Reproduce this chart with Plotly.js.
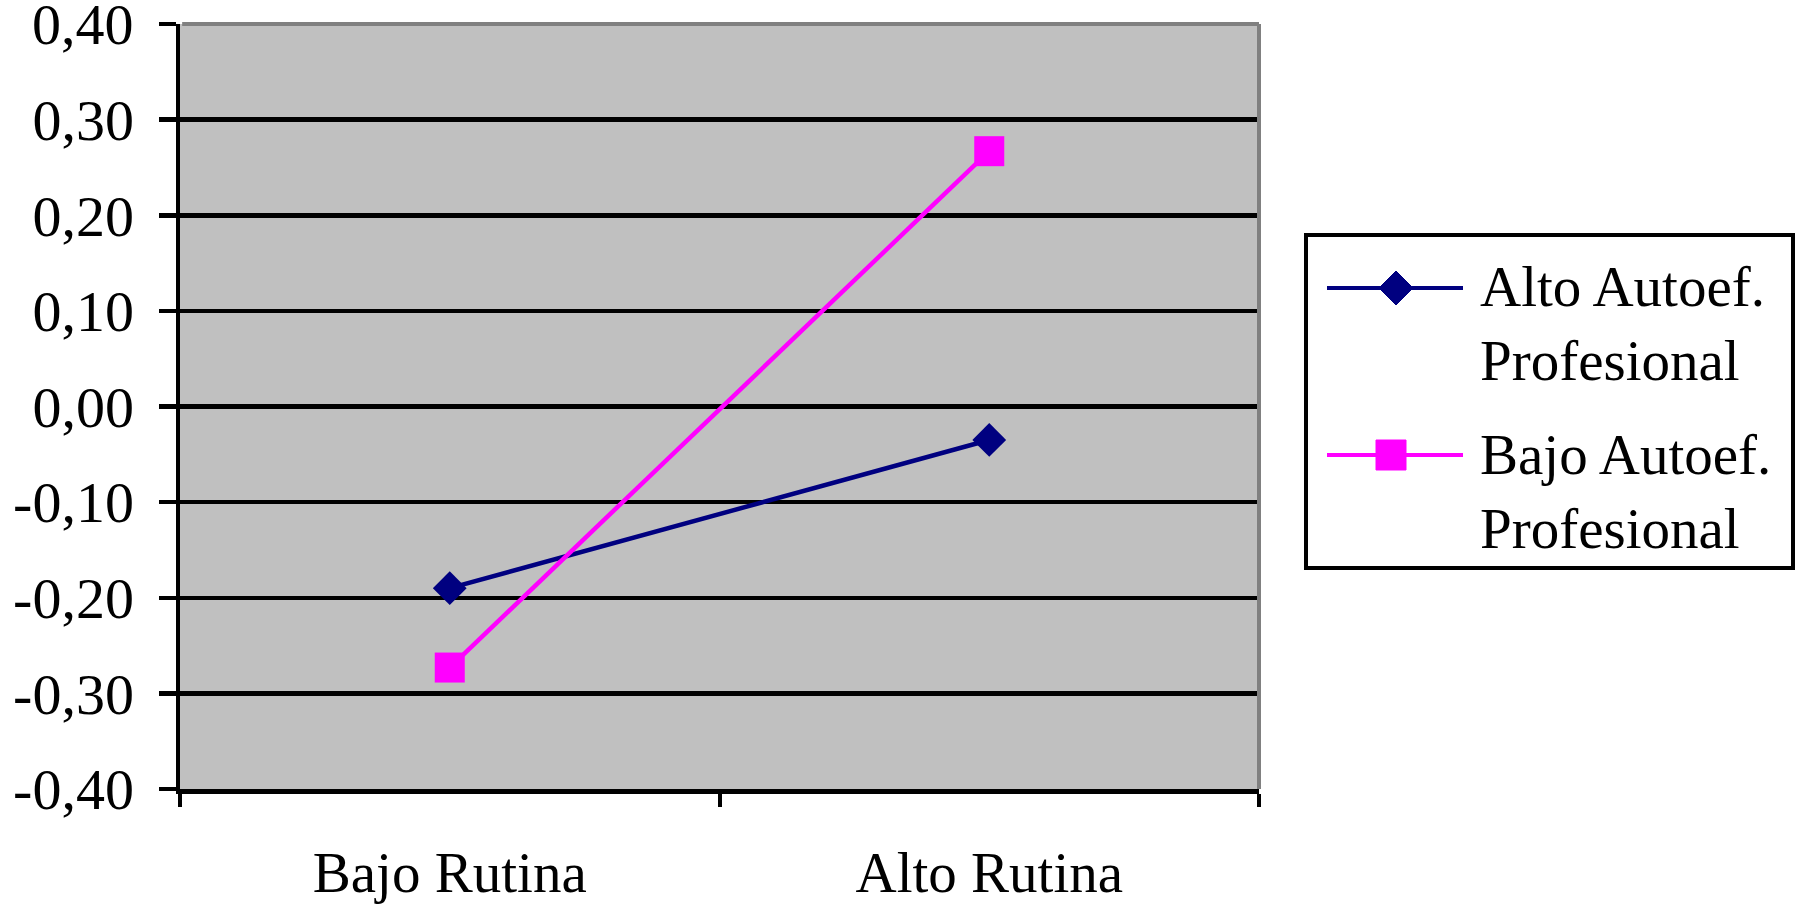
<!DOCTYPE html>
<html>
<head>
<meta charset="utf-8">
<script src="https://cdn.plot.ly/plotly-3.0.1.min.js"></script>
<style>html,body{margin:0;padding:0;background:#fff;}#chart{width:1796px;height:908px;}</style>
</head>
<body>
<div id="chart"></div>
<script>
const categories = ['Bajo Rutina', 'Alto Rutina'];
const altoAutoef = [-0.19, -0.035];
const bajoAutoef = [-0.273, 0.267];
const seriesNames = ['Alto Autoef.<br>Profesional', 'Bajo Autoef.<br>Profesional'];
const yTickVals = [-0.4, -0.3, -0.2, -0.1, 0, 0.1, 0.2, 0.3, 0.4];
const yTickText = ['-0,40', '-0,30', '-0,20', '-0,10', '0,00', '0,10', '0,20', '0,30', '0,40'];

const FONT = 'Liberation Serif, Times New Roman, serif';
const NAVY = '#000080', MAG = '#FF00FF';

// pixel -> paper helpers (plot area 180..1259 x, 24..789 y)
const L = 180, R = 1259, T = 24, B = 789;
const px = p => (p - L) / (R - L);
const py = p => (B - p) / (B - T);

const traces = [
  {x: categories, y: altoAutoef, name: seriesNames[0], type: 'scatter', mode: 'lines+markers',
   line: {color: NAVY, width: 4.5}, marker: {symbol: 'diamond', size: 26, color: NAVY}, showlegend: false},
  {x: categories, y: bajoAutoef, name: seriesNames[1], type: 'scatter', mode: 'lines+markers',
   line: {color: MAG, width: 4.5}, marker: {symbol: 'square', size: 30, color: MAG}, showlegend: false}
];

function diamondPath(cx, cy, r) {
  return `M${px(cx - r)},${py(cy)} L${px(cx)},${py(cy - r)} L${px(cx + r)},${py(cy)} L${px(cx)},${py(cy + r)} Z`;
}

const shapes = [
  // grey top and right borders of plot area
  {type: 'line', xref: 'paper', yref: 'paper', x0: 0.002, x1: 1, y0: 1, y1: 1, line: {color: '#808080', width: 4}, layer: 'above'},
  {type: 'line', xref: 'paper', yref: 'paper', x0: 1, x1: 1, y0: 0, y1: 1, line: {color: '#808080', width: 4}, layer: 'above'},
  // legend box
  {type: 'rect', xref: 'paper', yref: 'paper', x0: px(1306), x1: px(1793), y0: py(568), y1: py(235),
   line: {color: '#000', width: 4}, fillcolor: '#fff', layer: 'above'},
  // legend item 1
  {type: 'line', xref: 'paper', yref: 'paper', x0: px(1327), x1: px(1463), y0: py(288), y1: py(288), line: {color: NAVY, width: 4}, layer: 'above'},
  {type: 'path', xref: 'paper', yref: 'paper', path: diamondPath(1396, 288, 17), fillcolor: NAVY, line: {color: NAVY, width: 1}, layer: 'above'},
  // legend item 2
  {type: 'line', xref: 'paper', yref: 'paper', x0: px(1327), x1: px(1463), y0: py(455), y1: py(455), line: {color: MAG, width: 4}, layer: 'above'},
  {type: 'rect', xref: 'paper', yref: 'paper', x0: px(1376), x1: px(1406), y0: py(470), y1: py(440), fillcolor: MAG, line: {color: MAG, width: 1}, layer: 'above'}
];

const topIdx = yTickVals.length - 1;
const annotations = [
  {xref: 'paper', yref: 'paper', x: px(1478), y: py(323), xanchor: 'left', yanchor: 'middle', align: 'left',
   text: seriesNames[0], showarrow: false, font: {family: FONT, size: 57, color: '#000'}},
  {xref: 'paper', yref: 'paper', x: px(1478), y: py(491), xanchor: 'left', yanchor: 'middle', align: 'left',
   text: seriesNames[1], showarrow: false, font: {family: FONT, size: 57, color: '#000'}},
  // top tick label (Plotly drops it at the very edge of the canvas)
  {xref: 'paper', yref: 'y', x: px(135), y: yTickVals[topIdx], xanchor: 'right', yanchor: 'middle',
   text: yTickText[topIdx], showarrow: false, borderpad: 0, font: {family: FONT, size: 58, color: '#000'}}
];

const layout = {
  width: 1796, height: 908,
  paper_bgcolor: '#fff', plot_bgcolor: '#C0C0C0',
  margin: {l: L, r: 1796 - R, t: T, b: 908 - B, pad: 0},
  showlegend: false,
  xaxis: {
    type: 'category', range: [-0.5, 1.5], showline: true, linecolor: '#000', linewidth: 4.5,
    ticks: 'outside', tickson: 'boundaries', ticklen: 13, tickwidth: 4, tickcolor: '#000',
    showgrid: false, zeroline: false, fixedrange: true,
    tickfont: {family: FONT, size: 57, color: '#000'}, ticklabelstandoff: 30
  },
  yaxis: {
    range: [-0.40001, 0.40001], tickmode: 'array', tickvals: yTickVals, ticktext: yTickText,
    showline: true, linecolor: '#000', linewidth: 4.5,
    ticks: 'outside', ticklen: 17, tickwidth: 4.5, tickcolor: '#000',
    showgrid: true, gridcolor: '#000', gridwidth: 4.5, zeroline: false,
    tickfont: {family: FONT, size: 58, color: '#000'}, ticklabelstandoff: 13
  },
  shapes: shapes,
  annotations: annotations
};

Plotly.newPlot('chart', traces, layout, {staticPlot: true});
</script>
</body>
</html>
